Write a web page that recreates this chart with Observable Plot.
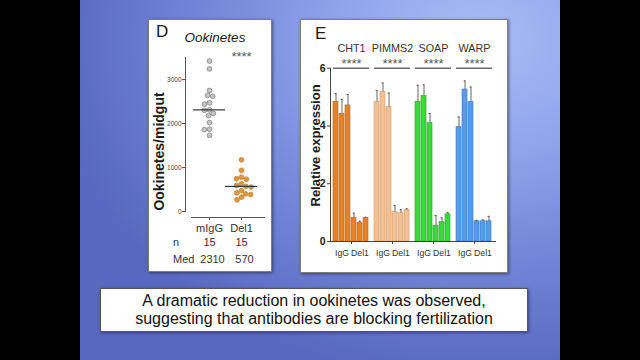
<!DOCTYPE html>
<html><head><meta charset="utf-8">
<script src="https://cdn.jsdelivr.net/npm/d3@7"></script>
<script src="https://cdn.jsdelivr.net/npm/@observablehq/plot@0.6"></script>
<style>
html,body{margin:0;padding:0;background:#000;width:640px;height:360px;overflow:hidden;font-family:"Liberation Sans",Arial,Helvetica,sans-serif;}
#bg{position:absolute;left:80px;top:0;width:480px;height:360px;background:radial-gradient(ellipse 430px 340px at 400px 40px,#a9bcf7 0%,#8fa3eb 35%,#7285d7 65%,#5868c0 100%);}
.panel{position:absolute;background:#fff;border:1px solid #7d7d7d;box-sizing:border-box;box-shadow:1px 1px 3px rgba(0,0,0,.45);}
.chart{position:absolute;}
.title{position:absolute;color:#1a1a1a;line-height:1;white-space:nowrap;}
#caption{position:absolute;left:100px;top:288px;width:428px;height:44px;box-sizing:border-box;border:1px solid #555;background:#fff;display:flex;align-items:center;justify-content:center;text-align:center;font-size:16px;line-height:18.5px;color:#111;box-shadow:1px 1px 3px rgba(0,0,0,.4);}
</style></head>
<body>
<div id="bg"></div>
<div class="panel" style="left:148px;top:19px;width:124px;height:253px"></div>
<div class="panel" style="left:300px;top:19px;width:208px;height:254px"></div>
<div class="title" style="left:156px;top:22.5px;font-size:17px">D</div>
<div class="title" style="left:165px;top:30.5px;width:100px;text-align:center;font-size:13.5px;font-style:italic">Ookinetes</div>
<div class="title" style="left:315px;top:25px;font-size:17px">E</div>
<div id="chartD" class="chart" style="left:148px;top:19px"></div>
<div id="axisD" class="chart" style="left:148px;top:19px"></div>
<div id="chartE" class="chart" style="left:300px;top:19px"></div>
<div id="axisE" class="chart" style="left:300px;top:19px"></div>
<div id="caption">A dramatic reduction in ookinetes was observed,<br>suggesting that antibodies are blocking fertilization</div>
<script>
// ---------- Panel D data ----------
const groupsD = ["mIgG", "Del1"];
const mIgGValues = [3420, 3240, 2750, 2640, 2620, 2470, 2440, 2310, 2300, 2230, 2180, 2020, 1870, 1860, 1730];
const del1Values = [1175, 935, 780, 745, 735, 630, 590, 570, 555, 475, 425, 400, 385, 325, 265];
const nValues = [15, 15];
const medianValues = [2310, 570];
const dotFill = ["#c4c4c4", "#dd953f"];
const dotStroke = ["#878787", "#c8842f"];
const yTicksD = [0, 1000, 2000, 3000];
const starsD = "****";
const yLabelD = "Ookinetes/midgut";

// ---------- Panel E data ----------
const genes = ["CHT1", "PIMMS2", "SOAP", "WARP"];
const conditions = ["IgG a", "IgG b", "IgG c", "Del1 a", "Del1 b", "Del1 c"];
const conditionLabels = ["IgG b", "Del1 b"];
const cht1Values   = [4.83, 4.42, 4.71, 0.82, 0.64, 0.81];
const cht1Errors   = [0.29, 0.50, 0.38, 0.16, 0.06, 0.03];
const pimms2Values = [4.83, 5.18, 4.66, 1.02, 0.98, 1.10];
const pimms2Errors = [0.40, 0.31, 0.48, 0.23, 0.12, 0.03];
const soapValues   = [4.83, 5.04, 4.10, 0.55, 0.67, 0.94];
const soapErrors   = [0.58, 0.38, 0.33, 0.35, 0.15, 0.06];
const warpValues   = [3.96, 5.26, 4.83, 0.70, 0.70, 0.70];
const warpErrors   = [0.35, 0.30, 0.52, 0.03, 0.05, 0.17];
const geneFill   = ["#ea801f", "#f3c095", "#35dc35", "#569ce8"];
const geneStroke = ["#c9670c", "#d49c6c", "#20b020", "#3877c6"];
const sigLevel = 6;
const starsE = ["****", "****", "****", "****"];
const yTicksE = [0, 2, 4, 6];
const yLabelE = "Relative expression";

const font = '"Liberation Sans", Arial, Helvetica, sans-serif';
const baseStyle = {background: "transparent", fontFamily: font, color: "#333", overflow: "visible"};

// ---------- Panel D: shared geometry ----------
const dimD = {width: 124, height: 253, marginLeft: 37, marginRight: 8, marginTop: 38, marginBottom: 55};
const yD = {domain: [0, 3500], range: [192, 38], label: null};

const dotsD = [
  ...mIgGValues.map(v => ({group: "mIgG", value: v})),
  ...del1Values.map(v => ({group: "Del1", value: v}))
];
const gi = g => groupsD.indexOf(g);

// data layer (faceted by group)
const plotD = Plot.plot({
  ...dimD, style: baseStyle,
  fx: {domain: groupsD, paddingInner: 0, paddingOuter: 0.197, label: null},
  y: {...yD, axis: null},
  marks: [
    Plot.axisFx({anchor: "bottom", tickSize: 3, tickPadding: 4, fontSize: 11, label: null, fill: "#333", stroke: "#555"}),
    Plot.dot(dotsD, Plot.dodgeX({anchor: "middle", padding: 0.4}, {
      fx: "group", y: "value", r: 2.4,
      fill: d => dotFill[gi(d.group)], stroke: d => dotStroke[gi(d.group)], strokeWidth: 0.8
    })),
    Plot.ruleY(groupsD, {fx: d => d, y: (d, i) => medianValues[i], stroke: "#333", strokeWidth: 1.2}),
    Plot.text([starsD], {fx: () => "Del1", frameAnchor: "top", dy: -6, fontSize: 13, fill: "#555"}),
    Plot.text(groupsD, {fx: d => d, text: (d, i) => String(nValues[i]), frameAnchor: "bottom", dy: 28, fontSize: 11, fill: "#333"}),
    Plot.text(groupsD, {fx: d => d, text: (d, i) => String(medianValues[i]), frameAnchor: "bottom", dx: 3, dy: 45, fontSize: 11, fill: "#333"}),
    Plot.text(["n"], {fx: () => "mIgG", frameAnchor: "bottom-left", textAnchor: "start", dx: -20.5, dy: 28, fontSize: 11, fill: "#333"}),
    Plot.text(["Med"], {fx: () => "mIgG", frameAnchor: "bottom-left", textAnchor: "start", dx: -20.5, dy: 45, fontSize: 11, fill: "#333"})
  ]
});
document.getElementById("chartD").appendChild(plotD);

// axis layer (same geometry, not faceted)
const axesD = Plot.plot({
  ...dimD, style: baseStyle,
  y: yD,
  marks: [
    Plot.frame({anchor: "left", insetBottom: 6, stroke: "#555"}),
    Plot.frame({anchor: "bottom", insetLeft: 6, stroke: "#555"}),
    Plot.axisY({ticks: yTicksD, tickFormat: d => String(d), tickSize: 3, tickPadding: 1, fontSize: 6.5, label: null, stroke: "#555", fill: "#444"}),
    Plot.text([yLabelD], {frameAnchor: "left", textAnchor: "middle", rotate: -90, dx: -26, dy: 14, fontSize: 14, fontWeight: "bold", fill: "#1a1a1a"})
  ]
});
document.getElementById("axisD").appendChild(axesD);

// ---------- Panel E ----------
const dimE = {width: 208, height: 254, marginLeft: 30, marginRight: 13, marginTop: 48.7, marginBottom: 32};
const yE = {domain: [0, 6], label: null};

const valueLists = [cht1Values, pimms2Values, soapValues, warpValues];
const errorLists = [cht1Errors, pimms2Errors, soapErrors, warpErrors];
const bars = genes.flatMap((g, i) => conditions.map((c, j) => ({
  gene: g, cond: c, value: valueLists[i][j], err: errorLists[i][j]
})));
const ge = g => genes.indexOf(g);

const plotE = Plot.plot({
  ...dimE, style: baseStyle,
  fx: {domain: genes, paddingInner: 0.1325, paddingOuter: 0.055, label: null},
  x: {domain: conditions, paddingInner: 0.15, paddingOuter: 0, label: null},
  y: {...yE, axis: null},
  marks: [
    Plot.barY(bars, {fx: "gene", x: "cond", y: "value",
      fill: d => geneFill[ge(d.gene)], stroke: d => geneStroke[ge(d.gene)], strokeWidth: 0.6}),
    Plot.ruleX(bars, {fx: "gene", x: "cond", y1: "value", y2: d => d.value + d.err, stroke: "#555", strokeWidth: 0.9}),
    Plot.tickY(bars, {fx: "gene", x: "cond", y: d => d.value + d.err, stroke: "#555", strokeWidth: 1, insetLeft: 1.6, insetRight: 1.6}),
    Plot.ruleY(genes, {fx: d => d, y: () => sigLevel, stroke: "#6e6e6e", strokeWidth: 1.6}),
    Plot.text(genes, {fx: d => d, text: (d, i) => starsE[i], frameAnchor: "top", dy: -9.4, fontSize: 13, fill: "#555"}),
    Plot.axisFx({anchor: "top", tickSize: 0, tickPadding: 16, fontSize: 10.8, label: null, fill: "#333"}),
    Plot.axisFx({anchor: "bottom", tickSize: 3, tickFormat: () => "", label: null, stroke: "#444"}),
    Plot.axisX({ticks: conditionLabels, tickFormat: d => d.split(" ")[0], tickSize: 0, tickPadding: 8,
      fontSize: 9.6, label: null, fill: "#333"})
  ]
});
document.getElementById("chartE").appendChild(plotE);
// slightly condense the IgG / Del1 labels (narrow face, as in the reference)
d3.select(plotE).selectAll('g[aria-label="x-axis tick label"] text').each(function () {
  const w = this.getComputedTextLength();
  this.setAttribute("textLength", (w * 0.9).toFixed(1));
  this.setAttribute("lengthAdjust", "spacingAndGlyphs");
});

const axesE = Plot.plot({
  ...dimE, style: baseStyle,
  y: yE,
  marks: [
    Plot.frame({anchor: "left", stroke: "#444"}),
    Plot.frame({anchor: "bottom", stroke: "#444"}),
    Plot.axisY({ticks: yTicksE, tickFormat: d => String(d), tickSize: 3, tickPadding: 2, fontSize: 10.5, fontWeight: "bold", label: null, fill: "#222", stroke: "#444"}),
    Plot.text([yLabelE], {frameAnchor: "left", textAnchor: "middle", rotate: -90, dx: -15, dy: -9.4, fontSize: 13, fontWeight: "bold", fill: "#1a1a1a"})
  ]
});
document.getElementById("axisE").appendChild(axesE);
</script>
</body></html>
